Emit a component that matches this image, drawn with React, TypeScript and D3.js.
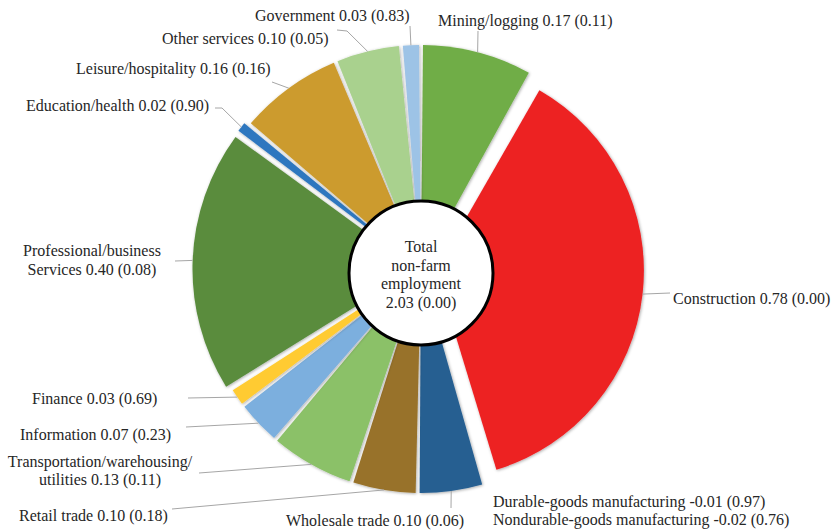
import React from 'react';
import * as d3 from 'd3';

// ---------- data ----------
const sectorLines: string[][] = [
  ['Mining/logging'],
  ['Construction'],
  ['Durable-goods manufacturing'],
  ['Nondurable-goods manufacturing'],
  ['Wholesale trade'],
  ['Retail trade'],
  ['Transportation/warehousing/', 'utilities'],
  ['Information'],
  ['Finance'],
  ['Professional/business', 'Services'],
  ['Education/health'],
  ['Leisure/hospitality'],
  ['Other services'],
  ['Government'],
];
const contributions = [0.17, 0.78, -0.01, -0.02, 0.10, 0.10, 0.13, 0.07, 0.03, 0.40, 0.02, 0.16, 0.10, 0.03];
const pValues = [0.11, 0.00, 0.97, 0.76, 0.06, 0.18, 0.11, 0.23, 0.69, 0.08, 0.90, 0.16, 0.05, 0.83];
const totalLines = ['Total', 'non-farm', 'employment'];
const totalValue = 2.03;
const totalP = 0.0;

// ---------- styles / layout ----------
const colors = ['#70AD47', '#ED2024', '#1F4E79', '#255E91', '#255E91', '#987229', '#8BC168', '#7CAFDE',
  '#FFCB32', '#5A8C3E', '#2F77BF', '#CC9B2E', '#A9D18E', '#9DC3E6'];
const explode = [0, 15, 0, 0, 0, 0, 0, 0, 0, 4.5, 5, 0, 0, 0];
const radiusOf = [224, 208, 224, 224, 224, 224, 224, 224, 224, 224, 224, 224, 224, 224];

type Lay = { x: number; y: number; anchor: 'start' | 'middle'; leader?: [number, number][] };
const layout: Lay[] = [
  { x: 438, y: 26, anchor: 'start', leader: [[478, 31]] },
  { x: 673, y: 304, anchor: 'start', leader: [[670, 293]] },
  { x: 493, y: 507, anchor: 'start' },
  { x: 493, y: 525, anchor: 'start' },
  { x: 286, y: 525.5, anchor: 'start', leader: [[451, 508]] },
  { x: 19, y: 520.5, anchor: 'start', leader: [[172, 509]] },
  { x: 100, y: 466.5, anchor: 'middle', leader: [[199, 473]] },
  { x: 20, y: 440, anchor: 'start', leader: [[186, 427]] },
  { x: 32, y: 404, anchor: 'start', leader: [[188, 398]] },
  { x: 92, y: 256, anchor: 'middle', leader: [[175, 261]] },
  { x: 26, y: 111, anchor: 'start', leader: [[215, 108], [222, 108]] },
  { x: 76, y: 74, anchor: 'start', leader: [[272, 82]] },
  { x: 162, y: 44, anchor: 'start', leader: [[337, 30], [347, 31]] },
  { x: 255, y: 21, anchor: 'start', leader: [[410, 26]] },
];

const W = 832;
const H = 530;
const cx = 421;
const cy = 269;
const holeCx = 421;
const holeCy = 273;
const holeR = 72;
const lineH = 18.5;
const textStyle: React.CSSProperties = {
  fontFamily: "'Liberation Serif', 'Times New Roman', Tinos, 'DejaVu Serif', serif",
  fontSize: '16px',
};

export default function App() {
  const pie = d3
    .pie<number>()
    .sort(null)
    .value((d) => Math.max(0, d));
  const arcs = pie(contributions);
  const arcGen = d3
    .arc<d3.PieArcDatum<number>>()
    .innerRadius(0)
    .outerRadius((d) => radiusOf[d.index])
    .padAngle(4 / 224)
    .padRadius(224);

  const offsetOf = (i: number) => {
    const a = arcs[i];
    const m = (a.startAngle + a.endAngle) / 2;
    return [explode[i] * Math.sin(m), -explode[i] * Math.cos(m)];
  };

  return (
    <svg width={W} height={H} style={{ position: 'absolute', left: 0, top: 0, background: '#fff' }}>
      <defs>
        <filter id="sh" x="-20%" y="-20%" width="140%" height="140%">
          <feDropShadow dx="0.8" dy="0.8" stdDeviation="1.4" floodColor="#000" floodOpacity="0.35" />
        </filter>
      </defs>
      <g transform={`translate(${cx},${cy})`}>
        {arcs.map((a, i) => {
          if (a.endAngle - a.startAngle <= 0) return null;
          const [ox, oy] = offsetOf(i);
          return (
            <path
              key={i}
              d={arcGen(a) || ''}
              transform={`translate(${ox},${oy})`}
              fill={colors[i]}
              filter="url(#sh)"
            />
          );
        })}
      </g>
      {/* leader lines */}
      {arcs.map((a, i) => {
        const lay = layout[i];
        if (!lay.leader || a.endAngle - a.startAngle <= 0) return null;
        const [ox, oy] = offsetOf(i);
        const m = (a.startAngle + a.endAngle) / 2;
        const r = radiusOf[i];
        const end: [number, number] = [cx + ox + r * Math.sin(m), cy + oy - r * Math.cos(m)];
        const pts = [...lay.leader, end];
        return (
          <polyline
            key={'l' + i}
            points={pts.map((p) => p.join(',')).join(' ')}
            fill="none"
            stroke="#A6A6A6"
            strokeWidth={1}
          />
        );
      })}
      {/* labels */}
      {sectorLines.map((lines, i) => {
        const lay = layout[i];
        const txt = [...lines];
        txt[txt.length - 1] = `${txt[txt.length - 1]} ${contributions[i].toFixed(2)} (${pValues[i].toFixed(2)})`;
        return (
          <text key={'t' + i} x={lay.x} y={lay.y} textAnchor={lay.anchor} style={textStyle} fill="#262626">
            {txt.map((t, j) => (
              <tspan key={j} x={lay.x} dy={j === 0 ? 0 : lineH}>
                {t}
              </tspan>
            ))}
          </text>
        );
      })}
      {/* center hole */}
      <circle cx={holeCx} cy={holeCy} r={holeR} fill="#fff" stroke="#000" strokeWidth={3} />
      <text x={holeCx} y={252} textAnchor="middle" style={textStyle} fill="#262626">
        {[...totalLines, `${totalValue.toFixed(2)} (${totalP.toFixed(2)})`].map((t, j) => (
          <tspan key={j} x={holeCx} dy={j === 0 ? 0 : lineH}>
            {t}
          </tspan>
        ))}
      </text>
    </svg>
  );
}
